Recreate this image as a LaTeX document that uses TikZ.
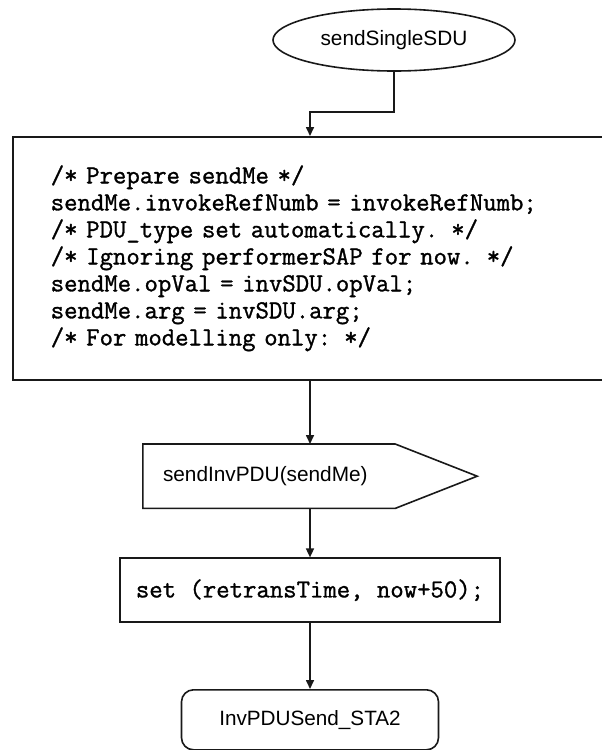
\documentclass[tikz,border=0pt]{standalone}
\usepackage{fontspec}
\setmainfont{Liberation Sans}
\newfontfamily\codefont[FakeBold=1.2]{Latin Modern Mono}
\usepackage{tikz}
\usetikzlibrary{shapes.geometric, arrows.meta, positioning, calc}
\definecolor{mydark}{RGB}{25,25,25}
\tikzset{
  startnode/.style={ellipse, draw=mydark, line width=1.6pt,
    minimum width=242pt, minimum height=62pt,
    font=\fontsize{20.8}{24}\selectfont},
  codebox/.style={rectangle, draw=mydark, line width=1.6pt,
    minimum width=608pt, minimum height=243pt, text width=532pt,
    inner xsep=38pt, align=left,
    font=\codefont\fontsize{26}{27}\selectfont},
  sendbox/.style={rectangle, minimum width=334pt, minimum height=64pt,
    text width=294pt, inner xsep=20pt, align=left,
    font=\fontsize{20.8}{24}\selectfont},
  taskbox/.style={rectangle, draw=mydark, line width=1.6pt,
    minimum width=380pt, minimum height=64pt, align=center,
    font=\codefont\fontsize{26}{27}\selectfont},
  statebox/.style={rectangle, draw=mydark, line width=1.6pt,
    rounded corners=12pt, minimum width=257pt, minimum height=60pt,
    align=center, font=\fontsize{20.7}{24}\selectfont},
  arrow/.style={-{Triangle[length=9pt, width=8pt]}, line width=1.6pt, color=mydark},
  line/.style={line width=1.6pt, color=mydark}
}
\begin{document}
\begin{tikzpicture}[x=1pt, y=-1pt]
  \clip (0,0) rectangle (602,750);

  % Start
  \node[startnode] (start) at (394,40) {sendSingleSDU};

  % Task with code
  \node[codebox, anchor=north west] (code) at (12,136) {%
    /* Prepare sendMe */\\
    sendMe.invokeRefNumb = invokeRefNumb;\\
    /* PDU\_type set automatically. */\\
    /* Ignoring performerSAP for now. */\\
    sendMe.opVal = invSDU.opVal;\\
    sendMe.arg = invSDU.arg;\\
    /* For modelling only: */};

  % Output signal
  \node[sendbox, anchor=north] (send) at (310,444) {sendInvPDU(sendMe)};
  \draw[line] (send.north west) -- ($(send.north east)+(-82,0)$) -- (send.east)
    -- ($(send.south east)+(-82,0)$) -- (send.south west) -- cycle;

  % Timer
  \node[taskbox, below=49pt of send] (timer) {set (retransTime, now+50);};

  % Next state
  \node[statebox, below=66pt of timer] (next) {InvPDUSend\_STA2};

  \draw[arrow] (start.south) -- ++(0,40) -| (send.north |- code.north);
  \draw[arrow] (send.north |- code.south) -- (send.north);
  \draw[arrow] (send.south) -- (timer.north);
  \draw[arrow] (timer.south) -- (next.north);
\end{tikzpicture}
\end{document}
